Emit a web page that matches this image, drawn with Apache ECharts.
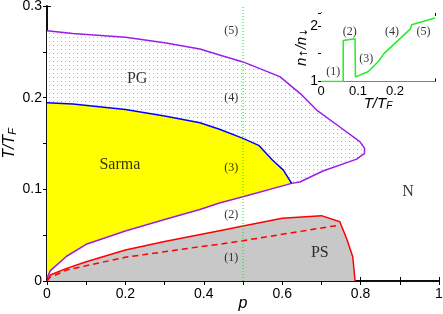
<!DOCTYPE html>
<html><head><meta charset="utf-8">
<script src="https://cdn.jsdelivr.net/npm/echarts@6/dist/echarts.min.js"></script>
<style>html,body{margin:0;padding:0;background:#fff}#c{width:443px;height:314px}</style>
</head><body><div id="c"></div>
<script>
// PG upper boundary (purple), p increasing
var pgUpper = [[0,0.273],[0.066,0.270],[0.2,0.266],[0.3,0.260],[0.39,0.253],[0.44,0.2466],[0.5,0.239],[0.594,0.223],[0.65,0.203],[0.688,0.1865],[0.747,0.168],[0.798,0.152],[0.81,0.145],[0.81,0.139]];
// lower purple boundary (Sarma lower edge + PG lower edge), p decreasing from the tip
var pgLower = [[0.81,0.139],[0.803,0.137],[0.79,0.133],[0.704,0.120],[0.645,0.108],[0.624,0.1065],[0.5,0.092],[0.44,0.085],[0.39,0.078],[0.3,0.067],[0.2,0.0545],[0.1,0.040],[0.05,0.027],[0.008,0.011],[0,0.003]];
// Sarma upper boundary (blue)
var blue = [[0,0.1945],[0.066,0.193],[0.2,0.187],[0.3,0.180],[0.39,0.1727],[0.44,0.1655],[0.5,0.1556],[0.54,0.148],[0.575,0.132],[0.603,0.121],[0.624,0.1065]];
// PS boundary (red solid)
var psUpper = [[0,0],[0.008,0.0065],[0.05,0.0138],[0.1,0.021],[0.2,0.0338],[0.3,0.043],[0.44,0.0549],[0.5,0.060],[0.6,0.0684],[0.7,0.0713],[0.747,0.0647],[0.764,0.0466],[0.78,0.0265],[0.786,0]];
// red dashed line
var psDashed = [[0,0],[0.008,0.004],[0.05,0.012],[0.2,0.0259],[0.39,0.0374],[0.44,0.040],[0.5,0.044],[0.746,0.061]];
// vertical cut
var cutLine = [[0.5,0],[0.5,0.3]];
// region labels
var regionLabels = [[0.23,0.221,'PG'],[0.186,0.1266,'Sarma'],[0.696,0.0305,'PS'],[0.921,0.0975,'N']];
var pointLabels = [[0.47,0.273,'(5)'],[0.47,0.200,'(4)'],[0.47,0.123,'(3)'],[0.47,0.072,'(2)'],[0.47,0.025,'(1)']];
// inset: n_up/n_down vs T/T_F
var insetCurve = [[0,1],[0.06,1],[0.06,1.736],[0.092,1.767],[0.093,1.08],[0.1,1.10],[0.128,1.18],[0.155,1.36],[0.17,1.50],[0.241,1.94],[0.245,2.02],[0.308,2.14]];
var insetLabels = [[0.033,1.17,'(1)'],[0.078,1.89,'(2)'],[0.122,1.41,'(3)'],[0.192,1.89,'(4)'],[0.277,1.89,'(5)']];
var xTicks = [0,0.2,0.4,0.6,0.8,1];
var yTicks = [0,0.1,0.2,0.3];

var dotCanvas = document.createElement('canvas');
dotCanvas.width = 4; dotCanvas.height = 4;
var dctx = dotCanvas.getContext('2d');
dctx.fillStyle = '#fff'; dctx.fillRect(0,0,4,4);
dctx.fillStyle = '#b4b4b4'; dctx.fillRect(1,1,1,1);

function polyRender(pts, style) {
  return function (params, api) {
    return {type:'polygon', shape:{points: pts.map(function(p){return api.coord(p);})}, style: style, silent:true};
  };
}
var sarmaPts = pgLower.filter(function(p){return p[0]<=0.624;}).concat(blue);
var pgPts = pgUpper.concat(pgLower.filter(function(p){return p[0]>=0.624;}).slice(1)).concat(blue.slice().reverse());

var sans = 'Liberation Sans';
var serif = 'Liberation Serif';
var tickStyle = {show:true, inside:true, length:4, lineStyle:{color:'#000', width:1}};
var lineAxis = {show:true, lineStyle:{color:'#000', width:1.5}};
function fmt(v){ return v===0?'0':(Math.round(v*10)/10).toString(); }

var chart = echarts.init(document.getElementById('c'), null, {renderer:'canvas'});
chart.setOption({
  animation:false,
  backgroundColor:'#fff',
  grid:[
    {left:47, right:4, top:6, bottom:33, containLabel:false, outerBoundsMode:'none'},
    {left:321, top:13, width:114, height:68.5, show:true, backgroundColor:'#fff', borderWidth:0, z:5, containLabel:false, outerBoundsMode:'none'}
  ],
  xAxis:[
    {type:'value', gridIndex:0, min:0, max:1, interval:0.2, axisLine:lineAxis, axisTick:tickStyle,
     minorTick:{show:true, splitNumber:2, length:4, lineStyle:{color:'#000'}}, splitLine:{show:false},
     axisLabel:{color:'#000', fontFamily:sans, fontSize:14, margin:6, formatter:fmt},
     name:'p', nameLocation:'middle', nameGap:15, nameMoveOverlap:false, nameTextStyle:{fontFamily:sans, fontStyle:'italic', fontSize:16, color:'#000'}},
    {type:'value', gridIndex:0, position:'top', min:0, max:1, interval:0.2, axisLine:lineAxis, axisTick:tickStyle,
     minorTick:{show:true, splitNumber:2, length:4, lineStyle:{color:'#000'}}, splitLine:{show:false}, axisLabel:{show:false}},
    {type:'value', gridIndex:1, min:0, max:0.308, interval:0.1, axisLine:{show:true, lineStyle:{color:'#000', width:1}}, axisTick:{show:true, inside:true, length:3, lineStyle:{color:'#000'}},
     minorTick:{show:true, splitNumber:2, length:3, lineStyle:{color:'#000'}}, splitLine:{show:false},
     axisLabel:{color:'#000', fontFamily:sans, fontSize:13, margin:3, showMaxLabel:false, formatter:function(v){var r=Math.round(v*100)/100; return (r===0||r===0.1||r===0.2)?fmt(r):'';}},
     name:'{i|T/T}{s|F}', nameLocation:'middle', nameGap:14, nameMoveOverlap:false,
     nameTextStyle:{rich:{i:{fontFamily:sans, fontStyle:'italic', fontSize:15, color:'#000', lineHeight:16, verticalAlign:'bottom'}, s:{fontFamily:sans, fontStyle:'italic', fontSize:10, color:'#000', lineHeight:9, verticalAlign:'bottom'}}}},
    {type:'value', gridIndex:1, position:'top', min:0, max:0.308, interval:0.1, axisLine:{show:true, lineStyle:{color:'#000', width:1}}, axisTick:{show:true, inside:true, length:3, lineStyle:{color:'#000'}},
     minorTick:{show:true, splitNumber:2, length:3, lineStyle:{color:'#000'}}, splitLine:{show:false}, axisLabel:{show:false}}
  ],
  yAxis:[
    {type:'value', gridIndex:0, min:0, max:0.3, interval:0.1, axisLine:lineAxis, axisTick:tickStyle,
     minorTick:{show:true, splitNumber:2, length:4, lineStyle:{color:'#000'}}, splitLine:{show:false},
     axisLabel:{color:'#000', fontFamily:sans, fontSize:14, margin:5, formatter:fmt},
     name:'{i|T/T}{s|F}', nameLocation:'middle', nameGap:29, nameRotate:90, nameMoveOverlap:false,
     nameTextStyle:{rich:{i:{fontFamily:sans, fontStyle:'italic', fontSize:16, color:'#000', lineHeight:18, verticalAlign:'bottom'}, s:{fontFamily:sans, fontStyle:'italic', fontSize:11, color:'#000', lineHeight:10, verticalAlign:'bottom'}}}},
    {type:'value', gridIndex:0, position:'right', min:0, max:0.3, interval:0.1, axisLine:lineAxis, axisTick:tickStyle,
     minorTick:{show:true, splitNumber:2, length:4, lineStyle:{color:'#000'}}, splitLine:{show:false}, axisLabel:{show:false}},
    {type:'value', gridIndex:1, min:1, max:2.23, interval:0.5, axisLine:{show:true, lineStyle:{color:'#000', width:1}}, axisTick:{show:true, inside:true, length:3, lineStyle:{color:'#000'}},
     splitLine:{show:false},
     axisLabel:{color:'#000', fontFamily:sans, fontSize:14, margin:3, formatter:function(v){return (v===1||v===2)?String(v):'';}},
     name:'{i|n}{s|↑}{i|/n}{s|↓}', nameLocation:'middle', nameGap:12, nameRotate:90, nameMoveOverlap:false,
     nameTextStyle:{rich:{i:{fontFamily:sans, fontStyle:'italic', fontSize:15, color:'#000', lineHeight:16, verticalAlign:'bottom'}, s:{fontFamily:'DejaVu Sans', fontSize:10, color:'#000', lineHeight:9, verticalAlign:'bottom'}}}},
    {type:'value', gridIndex:1, position:'right', min:1, max:2.23, interval:0.5, axisLine:{show:true, lineStyle:{color:'#000', width:1}}, axisTick:{show:true, inside:true, length:3, lineStyle:{color:'#000'}},
     splitLine:{show:false}, axisLabel:{show:false}}
  ],
  series:[
    {type:'line', xAxisIndex:0, yAxisIndex:0, data:psUpper, symbol:'none', lineStyle:{color:'#ff0000', width:1.5}, areaStyle:{color:'#c8c8c8', opacity:1}, z:2},
    {type:'custom', xAxisIndex:0, yAxisIndex:0, data:[[0,0]], renderItem:polyRender(sarmaPts, {fill:'#ffff00'}), z:2},
    {type:'custom', xAxisIndex:0, yAxisIndex:0, data:[[0,0]], renderItem:polyRender(pgPts, {fill:{image:dotCanvas, repeat:'repeat'}}), z:2},
    {type:'line', xAxisIndex:0, yAxisIndex:0, data:psDashed, symbol:'none', lineStyle:{color:'#ff0000', width:1.5, type:[6,4]}, z:3},
    {type:'line', xAxisIndex:0, yAxisIndex:0, data:pgUpper.concat(pgLower.slice(1)), symbol:'none', lineStyle:{color:'#9b1ee8', width:1.5}, z:3},
    {type:'line', xAxisIndex:0, yAxisIndex:0, data:blue, symbol:'none', lineStyle:{color:'#0000ff', width:1.5}, z:3},
    {type:'line', xAxisIndex:0, yAxisIndex:0, data:cutLine, symbol:'none', lineStyle:{color:'#00ee00', width:1, type:[1,2]}, z:3},
    {type:'scatter', xAxisIndex:0, yAxisIndex:0, data:regionLabels, symbolSize:0, z:4,
     label:{show:true, position:'inside', formatter:function(p){return p.data[2];}, fontFamily:serif, fontSize:16, color:'#000'}},
    {type:'scatter', xAxisIndex:0, yAxisIndex:0, data:pointLabels, symbolSize:0, z:4,
     label:{show:true, position:'inside', formatter:function(p){return p.data[2];}, fontFamily:serif, fontSize:12, color:'#000'}},
    {type:'line', xAxisIndex:2, yAxisIndex:2, data:insetCurve, symbol:'none', lineStyle:{color:'#22ee22', width:1.5}, z:6},
    {type:'scatter', xAxisIndex:2, yAxisIndex:2, data:insetLabels, symbolSize:0, z:6,
     label:{show:true, position:'inside', formatter:function(p){return p.data[2];}, fontFamily:serif, fontSize:12, color:'#000'}}
  ]
});
</script></body></html>
